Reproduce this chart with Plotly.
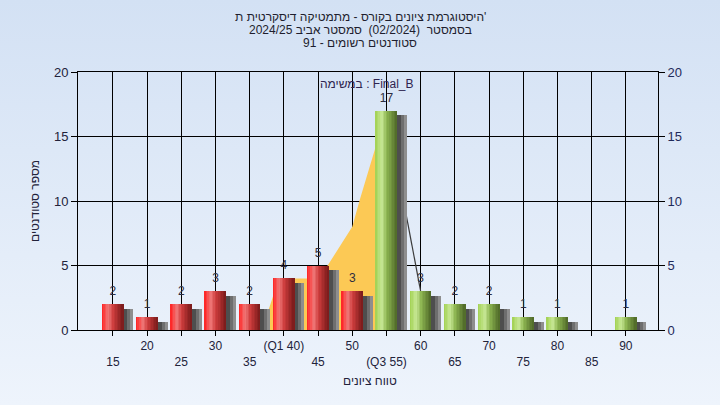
import base64
import plotly.graph_objects as go

# ---------------- data ----------------
categories = [15, 20, 25, 30, 35, 40, 45, 50, 55, 60, 65, 70, 75, 80, 85, 90]
counts = [2, 1, 2, 3, 2, 4, 5, 3, 17, 3, 2, 2, 1, 1, 0, 1]
tick_labels = ["15", "20", "25", "30", "35", "(Q1 40)", "45", "50",
               "(Q3 55)", "60", "65", "70", "75", "80", "85", "90"]
tick_row = [1, 0, 1, 0, 1, 0, 1, 0, 1, 0, 1, 0, 1, 0, 1, 0]
pass_mark = 55

# highlighted (Q1..Q3) area
area_x = [36.8, 38.4, 41.6, 43.4, 46.4, 48.2, 50.0, 51.1, 53.5, 55.0, 55.0]
area_y = [0, 2.6, 4.0, 4.0, 5.0, 6.45, 8.0, 10.1, 14.3, 17.0, 0]
drop_x = [55, 60]
drop_y = [17, 3]

title_lines = [
    "היסטוגרמת ציונים בקורס - מתמטיקה דיסקרטית ת'",
    "בסמסטר  (02/2024)  סמסטר אביב 2024/25",
    "סטודנטים רשומים - 91",
]
task_label = "במשימה : Final_B"
x_title = "טווח ציונים"
y_title = "מספר סטודנטים"

# ---------------- styling helpers ----------------
FONT = "Liberation Sans, Arial, DejaVu Sans, sans-serif"
TXT = "#22223a"

red_stops = [(0.0, (255, 30, 30)), (0.3, (240, 120, 120)), (0.55, (205, 60, 60)), (1.0, (120, 26, 26))]
green_stops = [(0.0, (160, 208, 80)), (0.3, (200, 232, 150)), (0.55, (140, 180, 80)), (1.0, (78, 104, 40))]


def grad(stops, t):
    for (t0, c0), (t1, c1) in zip(stops, stops[1:]):
        if t0 <= t <= t1:
            f = (t - t0) / (t1 - t0)
            c = [round(a + (b - a) * f) for a, b in zip(c0, c1)]
            return "rgb(%d,%d,%d)" % tuple(c)
    return "rgb(%d,%d,%d)" % stops[-1][1]


fig = go.Figure()

# area + drop line (main subplot, drawn below the overlaid bar subplot)
fig.add_trace(go.Scatter(x=area_x, y=area_y, mode="lines", fill="toself",
                         fillcolor="#fcc955", line=dict(width=0), hoverinfo="skip",
                         showlegend=False))
fig.add_trace(go.Scatter(x=drop_x, y=drop_y, mode="lines",
                         line=dict(color="#3c3c3c", width=1.2), hoverinfo="skip",
                         showlegend=False))

BW = 3.1          # bar width in score units
PX = 5 / 34.2     # one pixel in score units

# shadows: three bands to the right of each bar, darkest next to the bar
shadow_cols = ["#8e8e8e", "#6e6e6e", "#4e4e4e"]
shadow_right = [10, 7, 4]
for col, rpx in zip(shadow_cols, shadow_right):
    off = BW / 2 - 2 * PX
    fig.add_trace(go.Bar(
        x=categories, y=[c - 0.15 if c > 0 else 0 for c in counts],
        base=-0.22, offset=off, width=(rpx + 2) * PX, yaxis="y2",
        marker=dict(color=col, line=dict(width=0)),
        hoverinfo="skip", showlegend=False))

# cylinder-like bars built from slices
N = 14
for i in range(N):
    t = (i + 0.5) / N
    cols = [grad(red_stops if c < pass_mark else green_stops, t) for c in categories]
    fig.add_trace(go.Bar(
        x=categories, y=counts, offset=-BW / 2 + i * BW / N, width=BW / N * 1.08,
        yaxis="y2",
        marker=dict(color=cols, line=dict(width=0)), hoverinfo="skip",
        showlegend=False))

# value labels
fig.add_trace(go.Scatter(
    x=[c for c, v in zip(categories, counts) if v > 0],
    y=[v for v in counts if v > 0],
    text=[str(v) for v in counts if v > 0],
    mode="markers+text", textposition="top center", yaxis="y2",
    marker=dict(size=8, opacity=0),
    textfont=dict(family=FONT, size=12, color="#2d2d40"),
    hoverinfo="skip", showlegend=False))

ticktext = [("\u00a0<br>" + t) if r else t for t, r in zip(tick_labels, tick_row)]

svg = ('<svg xmlns="http://www.w3.org/2000/svg" width="720" height="405">'
       '<defs><linearGradient id="g" x1="0" y1="0" x2="0" y2="1">'
       '<stop offset="0" stop-color="#d3e1f4"/><stop offset="1" stop-color="#eef4fc"/>'
       '</linearGradient></defs><rect width="720" height="405" fill="url(#g)"/></svg>')
src = "data:image/svg+xml;base64," + base64.b64encode(svg.encode()).decode()

L, R, T, B = 78, 62, 72, 75
PW, PH = 720 - L - R, 405 - T - B

annotations = []
for k, (line, ypx) in enumerate(zip(title_lines, [17, 30, 43])):
    annotations.append(dict(text=line, xref="paper", yref="paper",
                            x=(360 - L) / PW, y=(405 - B - ypx) / PH,
                            showarrow=False, xanchor="center", yanchor="middle",
                            font=dict(family=FONT, size=12, color="#1e1e2e")))
annotations.append(dict(text=task_label, xref="paper", yref="paper",
                        x=(367 - L) / PW, y=1 - 12 / PH, showarrow=False,
                        xanchor="center", yanchor="middle",
                        font=dict(family=FONT, size=12, color="#2e2450")))
annotations.append(dict(text=x_title, xref="paper", yref="paper",
                        x=(370 - L) / PW, y=(405 - B - 381) / PH, showarrow=False,
                        xanchor="center", yanchor="middle",
                        font=dict(family=FONT, size=12, color=TXT)))
annotations.append(dict(text=y_title, xref="paper", yref="paper",
                        x=(35 - L) / PW, y=0.5, showarrow=False, textangle=-90,
                        xanchor="center", yanchor="middle",
                        font=dict(family=FONT, size=12, color=TXT)))

fig.update_layout(
    width=720, height=405,
    margin=dict(l=L, r=R, t=T, b=B),
    paper_bgcolor="#e2ebf8",
    plot_bgcolor="#b3b3b3",
    barmode="overlay",
    bargap=0,
    font=dict(family=FONT, size=12, color=TXT),
    showlegend=False,
    images=[dict(source=src, xref="paper", yref="paper", x=-L / PW, y=1 + T / PH,
                 sizex=720 / PW, sizey=405 / PH, sizing="stretch", layer="below",
                 xanchor="left", yanchor="top")],
    xaxis=dict(range=[9.9, 94.7], tickvals=categories, ticktext=ticktext,
               showgrid=True, gridcolor="#000000", gridwidth=1,
               showline=True, linecolor="#000000", linewidth=1, mirror=True,
               ticks="outside", ticklen=5, tickcolor="#000000",
               tickfont=dict(family=FONT, size=12, color=TXT), zeroline=False,
               fixedrange=True),
    yaxis=dict(range=[0, 20], tickvals=[0, 5, 10, 15, 20],
               showgrid=True, gridcolor="#000000", gridwidth=1,
               showline=True, linecolor="#000000", linewidth=1, mirror=True,
               ticks="outside", ticklen=6, tickcolor="#000000",
               tickfont=dict(family=FONT, size=13, color=TXT), zeroline=False),
    yaxis2=dict(range=[0, 20], tickvals=[0, 5, 10, 15, 20], overlaying="y",
                side="right", showgrid=False, showline=False, zeroline=False,
                ticks="outside", ticklen=6, tickcolor="#000000",
                tickfont=dict(family=FONT, size=13, color="#1f2a5a")),
    annotations=annotations,
)

fig.write_html("out.html", config={"displayModeBar": False},
               post_script="document.body.style.margin='0';")
